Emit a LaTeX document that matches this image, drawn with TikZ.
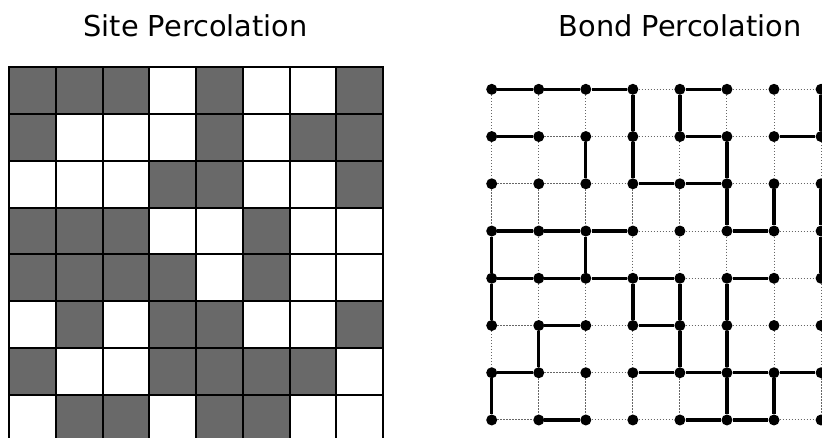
\documentclass[tikz,border=0pt]{standalone}
\usepackage{fontspec}
\setmainfont{DejaVu Sans}
\definecolor{cellgray}{RGB}{105,105,105}
\tikzset{
  title/.style={anchor=base, inner sep=0pt, font=\fontsize{28.8}{34}\selectfont},
  cellfill/.style={fill=cellgray},
  sitegrid/.style={draw=black, line width=2pt, line cap=rect},
  vtx/.style={circle, fill=black, inner sep=0pt, minimum size=11pt},
  openbond/.style={draw=black!60, line width=1pt, dash pattern=on 1.2pt off 1.8pt},
  bond/.style={draw=black, line width=3.3pt}
}
\begin{document}
\begin{tikzpicture}[x=1pt,y=-1pt]
\useasboundingbox (0,0) rectangle (822,437);
\clip (0,0) rectangle (822,437);
\fill[white] (0,0) rectangle (822,437);
% titles
\node[title] (t1) at (195.5,36) {Site Percolation};
\node[title] (t2) at (680,36.5) {Bond Percolation};
% site percolation grid
\foreach \row [count=\j from 0] in {{1,1,1,0,1,0,0,1},{1,0,0,0,1,0,1,1},{0,0,0,1,1,0,0,1},{1,1,1,0,0,1,0,0},{1,1,1,1,0,1,0,0},{0,1,0,1,1,0,0,1},{1,0,0,1,1,1,1,0},{0,1,1,0,1,1,0,0}}{
  \foreach \c [count=\i from 0] in \row {
    \ifnum\c=1
      \fill[cellfill] (9+\i*46.75,67.3+\j*46.75) rectangle (9+\i*46.75+46.75,67.3+\j*46.75+46.75);
    \fi
  }
}
\foreach \k in {0,...,8}{
  \draw[sitegrid] (9+\k*46.75,67.3) -- (9+\k*46.75,441.3);
  \draw[sitegrid] (9,67.3+\k*46.75) -- (383,67.3+\k*46.75);
}
% bond percolation lattice
\foreach \i in {0,...,7}{
  \foreach \j in {0,...,7}{
    \node[vtx] (n-\i-\j) at (491.7+\i*47.05,89.3+\j*47.24) {};
  }
}
\foreach \i in {0,...,6}{
  \foreach \j in {0,...,7}{
    \pgfmathtruncatemacro\ii{\i+1}
    \draw[openbond] (n-\i-\j) -- (n-\ii-\j);
    \draw[openbond] (n-\j-\i) -- (n-\j-\ii);
  }
}
\foreach \i/\j in {0/0,1/0,2/0,4/0, 0/1,4/1,6/1, 3/2,4/2, 0/3,1/3,2/3,5/3, 0/4,1/4,2/4,3/4,5/4, 1/5,3/5, 0/6,3/6,4/6,5/6,6/6, 1/7,4/7,5/7}{
  \pgfmathtruncatemacro\ii{\i+1}
  \draw[bond] (n-\i-\j) -- (n-\ii-\j);
}
\foreach \i/\j in {3/0,4/0,7/0, 2/1,3/1,5/1, 5/2,6/2,7/2, 0/3,2/3,7/3, 0/4,3/4,4/4,5/4, 1/5,4/5,5/5, 0/6,5/6,6/6}{
  \pgfmathtruncatemacro\jj{\j+1}
  \draw[bond] (n-\i-\j) -- (n-\i-\jj);
}
\end{tikzpicture}
\end{document}
